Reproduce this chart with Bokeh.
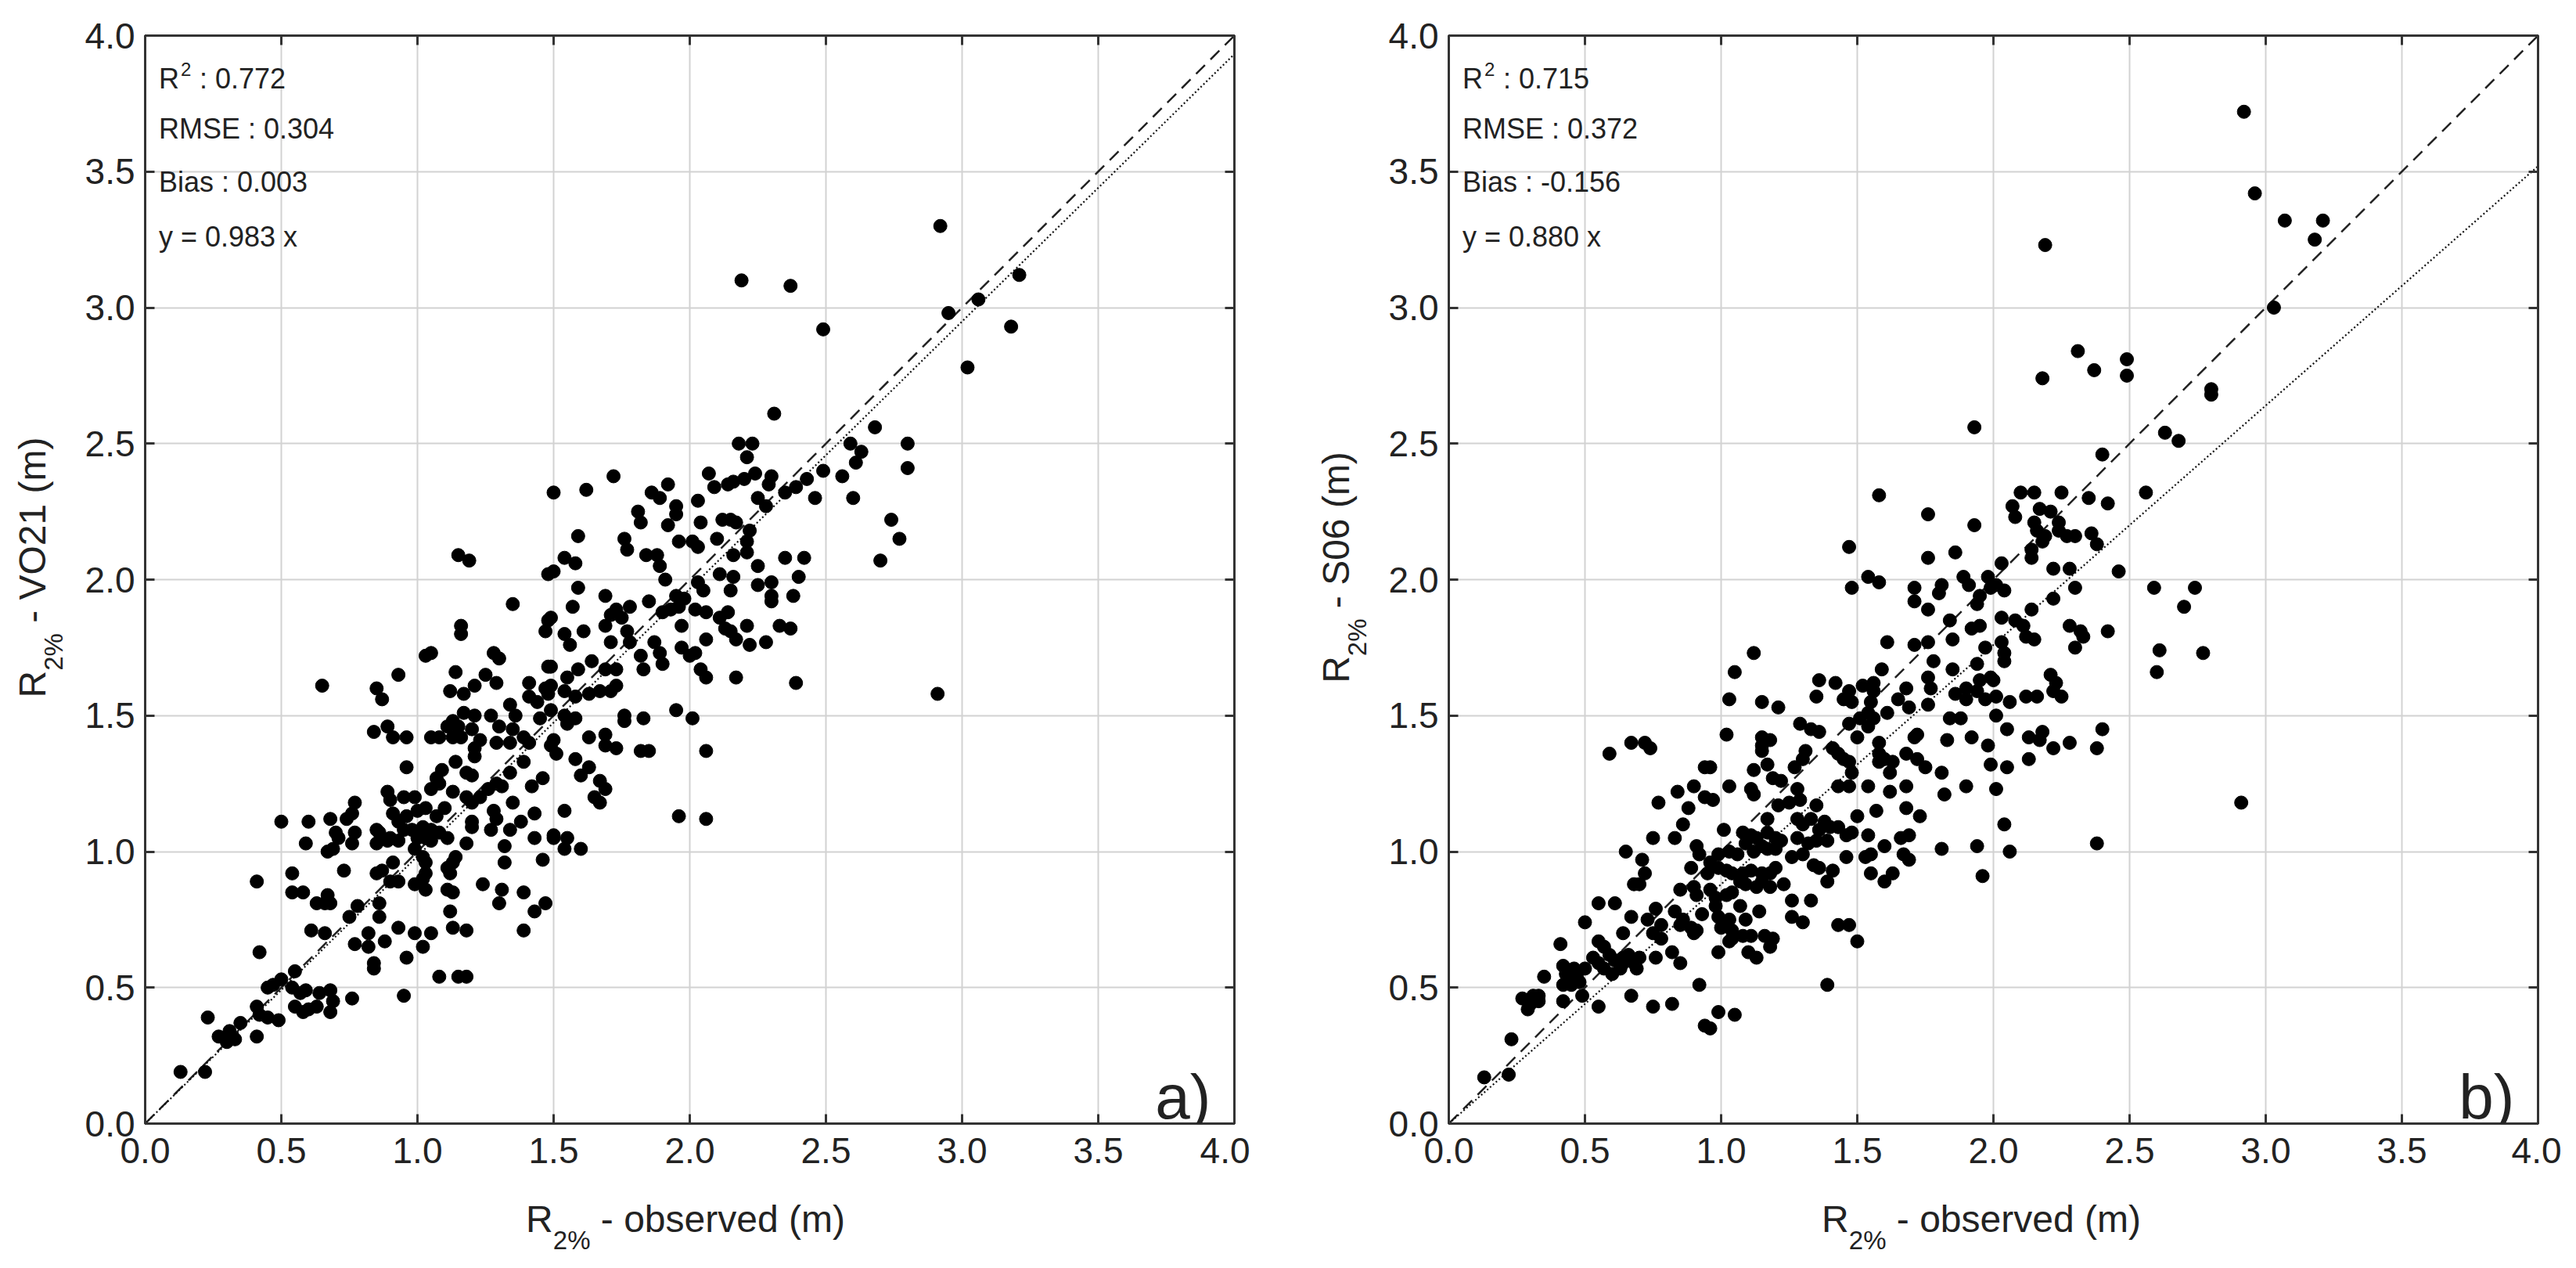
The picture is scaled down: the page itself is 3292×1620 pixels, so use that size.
import math
from bokeh.plotting import figure
from bokeh.models import Label, LinearAxis, FixedTicker, PrintfTickFormatter, Range1d, Div
from bokeh.layouts import row, column
from bokeh.embed import file_html
from bokeh.resources import INLINE

FONT = "Liberation Sans"

# ---------------- data ----------------
axis_ticks = [0.0, 0.5, 1.0, 1.5, 2.0, 2.5, 3.0, 3.5, 4.0]
one_to_one = [0.0, 4.0]

# panel a) : observed vs VO21
obs_a_low = [
    1.15,1.19,1.48,1.35,1.48,1.47,1.16,1.16,1.03,1.05,
    1.28,1.30,1.48,1.14,1.25,1.29,0.93,0.65,0.85,0.87,
    1.12,1.17,1.21,1.41,1.47,1.48,1.41,1.34,1.44,1.45,
    1.36,1.17,1.21,1.27,1.13,1.11,1.15,1.20,1.30,1.35,
    1.39,1.41,1.34,1.29,1.23,1.21,1.13,1.16,1.05,1.08,
    0.84,0.89,0.91,0.96,1.49,1.21,0.96,1.14,1.18,1.20,
    1.09,1.07,1.05,1.08,1.29,1.31,1.26,1.34,1.39,1.42,
    1.46,0.89,0.90,0.95,0.99,0.77,1.13,1.18,1.20,1.23,
    0.50,0.60,0.68,0.74,0.76,0.85,0.86,0.91,0.93,0.96,
    1.00,1.03,1.07,1.10,0.95,0.98,1.02,1.05,1.08,1.11,
    0.90,0.93,1.00,1.03,1.05,0.71,0.70,0.77,0.76,0.67,
    0.69,0.59,0.85,0.89,0.99,1.02,1.20,1.20,1.28,1.29,
    1.35,1.43,1.27,1.34,1.38,1.18,1.32,1.43,1.46,1.50,
    0.73,0.85,0.87,0.90,0.93,0.91,1.03,1.03,1.02,1.14,
    1.13,1.11,1.12,0.99,1.03,1.11,1.13,1.24,1.31,1.39,
    1.32,1.30,1.43,1.47,0.41,0.54,0.54,0.58,0.63,0.66,
    0.67,0.68,0.78,0.75,0.86,0.86,1.12,0.61,0.66,0.77,
    0.82,0.82,0.88,0.93,0.99,1.02,1.05,1.13,1.18,1.39,
    0.84,0.84,0.96,1.08,1.15,1.18,0.42,0.55,0.50,0.45,
    0.47,0.54,0.57,0.59,0.55,0.58,0.60,0.63,0.64,0.68,
    0.68,0.69,0.76,0.95,0.41,0.42,0.45,0.49,0.35,0.31,
    0.27,0.30,0.33,0.23,0.41,0.13,0.22]
vo21_low = [
    2.09,2.07,2.02,1.91,1.85,1.81,1.83,1.80,1.72,1.73,
    1.73,1.71,1.68,1.66,1.65,1.62,1.65,1.61,1.60,1.56,
    1.59,1.58,1.61,1.62,1.60,1.58,1.57,1.54,1.55,1.49,
    1.50,1.51,1.50,1.50,1.48,1.46,1.46,1.45,1.46,1.45,
    1.42,1.40,1.40,1.40,1.41,1.38,1.42,1.42,1.42,1.42,
    1.44,1.46,1.42,1.42,1.39,1.35,1.31,1.33,1.29,1.28,
    1.30,1.27,1.23,1.25,1.25,1.24,1.23,1.29,1.33,1.24,
    1.27,1.22,1.19,1.20,1.20,1.18,1.22,1.20,1.18,1.20,
    1.11,1.11,1.12,1.12,1.14,1.08,1.07,1.14,1.11,1.13,
    1.15,1.16,1.13,1.16,1.08,1.08,1.09,1.08,1.07,1.05,
    1.05,1.04,1.05,1.05,1.04,1.05,1.07,1.07,1.03,1.00,
    1.01,1.03,1.03,1.04,1.01,0.98,1.11,1.09,1.15,1.12,
    1.18,1.14,1.08,1.08,1.11,1.03,1.02,1.05,0.97,1.05,
    0.93,0.92,0.93,0.89,0.89,0.96,0.96,0.92,0.90,0.98,
    0.96,0.94,0.92,0.88,0.86,0.86,0.85,0.88,0.86,0.85,
    0.96,0.81,0.78,0.81,0.89,0.92,0.85,0.85,0.81,0.81,
    0.84,0.81,0.80,0.76,0.81,0.76,0.78,0.71,0.70,0.66,
    0.70,0.65,0.67,0.72,0.70,0.65,0.70,0.72,0.71,0.71,
    0.59,0.57,0.61,0.54,0.54,0.54,0.63,0.56,0.53,0.50,
    0.51,0.50,0.48,0.49,0.43,0.41,0.42,0.43,0.48,0.49,
    0.41,0.45,0.46,0.47,0.43,0.40,0.39,0.38,0.37,0.34,
    0.32,0.30,0.31,0.39,0.32,0.19,0.19]
obs_a_high = [
    2.19,2.37,2.49,3.21,2.95,3.06,3.18,3.02,2.92,
    2.31,2.68,2.18,2.23,2.21,2.59,2.63,2.61,2.80,2.80,2.49,2.56,2.60,2.46,
    2.74,2.77,2.70,2.91,
    2.35,2.39,2.43,2.24,2.20,2.16,2.14,2.09,2.07,2.29,
    2.30,2.25,2.28,2.03,1.92,1.86,1.89,1.72,1.62,1.50,
    1.59,1.81,1.82,1.76,1.77,1.95,1.95,1.92,2.04,2.10,
    2.12,2.15,2.17,2.22,2.21,2.21,2.16,1.96,2.01,2.03,
    1.84,1.88,1.89,1.91,1.54,1.58,1.50,2.35,2.42,2.40,
    2.38,2.25,2.25,2.30,2.30,2.30,2.11,2.16,2.15,2.03,
    2.05,1.95,1.98,1.96,1.93,1.97,1.90,2.02,2.06,2.11,
    2.14,2.13,2.15,2.17,2.21,2.22,2.28,2.33,2.37,1.59,
    1.69,1.57,1.49,1.73,1.78,1.75,1.71,1.69,1.54,1.56,
    1.61,1.71,1.77,1.78,1.85,1.87,1.89,1.90,1.82,1.83,
    1.97,2.00,2.02,2.06,2.04,2.06,2.17,2.39,1.49,1.55,
    1.59,1.64,1.69,1.73,1.49,1.54,1.58,1.63,1.67,1.71,
    1.73,1.49,1.54,1.58,1.55,1.76,1.76,1.83,1.95,2.01,
    1.63,1.69,1.69,1.73,1.50,1.51,1.82,1.85,2.06,1.58,
    1.63,1.60,1.67,1.69,1.65,1.67,1.54,1.96,2.06,1.50,
    1.55,1.54,1.60]
vo21_high = [
    3.10,3.08,2.92,3.12,2.98,3.03,2.93,2.78,3.30,
    2.61,2.56,2.50,2.50,2.45,2.50,2.47,2.43,2.50,2.41,2.40,2.38,2.30,2.30,
    2.22,2.15,2.07,1.58,
    2.32,2.34,2.37,2.39,2.37,2.36,2.35,2.34,2.39,2.35,
    2.38,2.30,2.27,2.29,2.35,2.32,2.30,2.38,2.33,2.32,
    2.16,2.25,2.21,2.15,2.11,2.27,2.24,2.20,2.21,2.15,
    2.22,2.22,2.21,2.18,2.14,2.10,2.09,2.14,2.14,2.12,
    2.09,2.09,2.05,2.00,2.08,2.06,2.03,2.08,2.08,2.01,
    1.94,2.05,1.98,1.99,1.94,1.92,2.02,2.01,1.96,1.99,
    1.96,1.94,1.93,1.90,1.89,1.83,1.88,1.89,1.88,1.86,
    1.88,1.82,1.81,1.78,1.83,1.76,1.77,1.83,1.82,1.97,
    1.94,1.90,1.86,1.89,1.90,1.86,1.87,1.83,1.80,1.76,
    1.81,1.77,1.81,1.77,1.92,1.77,1.73,1.69,1.72,1.67,
    1.75,1.72,1.73,1.78,1.67,1.64,1.64,1.62,1.68,1.64,
    1.67,1.70,1.67,1.67,1.61,1.59,1.57,1.58,1.59,1.59,
    1.61,1.52,1.50,1.49,1.47,1.50,1.48,1.49,1.52,1.49,
    1.42,1.43,1.39,1.38,1.41,1.36,1.37,1.37,1.37,1.34,
    1.31,1.28,1.26,1.23,1.20,1.18,1.15,1.13,1.12,1.06,
    1.05,1.01,1.01]

# panel b) : observed vs S06
obs_b_top = [
    1.93,2.92,2.96,3.07,3.21,3.18,3.03,2.19,2.31,2.37,
    2.18,2.49,2.49,2.80,2.80,2.63,2.68,2.40,2.56,2.25,
    2.10,2.15,2.35,2.42,2.07,2.08,2.17,2.21,2.24,2.15]
s06_top = [
    2.56,3.72,3.42,3.32,3.32,3.25,3.00,3.23,2.84,2.77,
    2.74,2.81,2.75,2.70,2.68,2.54,2.51,2.46,2.32,2.32,
    2.32,2.32,2.30,2.28,2.27,2.23,2.26,2.25,2.21,2.21]
obs_b_right = [
    2.16,2.19,2.24,2.27,2.30,2.36,2.38,2.18,2.14,2.03,
    2.01,2.04,2.14,2.22,2.28,2.46,2.59,2.74,2.70,2.30,
    2.22,2.14,2.03,2.08,2.11,2.12,2.15,2.28,2.32,2.33,
    2.30,2.42,2.61,2.77,2.60,2.03,2.04,2.04,2.21,2.23,
    2.25,2.22,2.12,2.16,2.06,2.01,2.00,2.01,2.05,2.13,
    2.18,2.17,2.28,2.22,2.13,2.40,2.38,2.05,2.01,2.04,
    2.38,2.06,2.91]
s06_right = [
    2.18,2.16,2.18,2.16,2.16,2.17,2.13,2.14,2.11,2.06,
    1.98,1.96,2.08,2.04,2.04,2.03,1.97,1.97,1.90,1.97,
    1.93,1.89,1.86,1.85,1.83,1.79,1.78,1.83,1.81,1.79,
    1.75,1.81,1.74,1.73,1.66,1.77,1.73,1.70,1.65,1.62,
    1.57,1.59,1.57,1.57,1.55,1.57,1.63,1.50,1.45,1.42,
    1.44,1.41,1.40,1.38,1.34,1.45,1.38,1.31,1.23,1.10,
    1.03,1.00,1.18]
obs_b_mid = [
    1.58,1.76,1.93,1.47,1.76,1.86,1.54,1.58,1.48,1.71,
    1.71,1.76,1.81,1.80,1.89,1.91,1.98,1.99,1.95,1.94,
    1.84,1.92,1.95,1.61,1.71,1.76,1.85,1.97,1.78,1.94,
    1.59,1.85,1.76,1.77,1.68,1.56,1.52,1.56,1.47,1.45,
    1.48,1.36,1.35,1.42,1.65,1.69,1.76,1.86,1.90,1.94,
    1.97,1.95,1.99,1.90,1.55,1.54,1.51,1.56,1.61,1.47,
    1.54,1.84,1.88,1.29,1.33,1.36,1.15,1.21,1.03,1.05,
    1.12,1.02,1.15,1.18,1.15,1.15,1.50,1.58,1.72,1.71,
    1.83,1.92,1.98,1.41,1.43,1.45,1.47,1.31,1.30,1.27,
    1.58,1.60,1.58,1.63,1.68,1.72,1.75,1.81,1.99,1.48,
    1.62,1.17,1.12,0.94,0.96,0.59,0.67,0.72,0.74]
s06_mid = [
    2.31,2.24,2.20,2.12,2.08,2.10,2.01,1.99,1.97,1.97,
    1.92,1.89,1.98,1.95,2.01,1.98,2.01,1.97,1.94,1.91,
    1.85,1.82,1.83,1.77,1.76,1.77,1.78,1.75,1.70,1.69,
    1.67,1.67,1.64,1.60,1.60,1.62,1.61,1.59,1.59,1.56,
    1.55,1.63,1.57,1.62,1.56,1.53,1.54,1.58,1.60,1.59,
    1.56,1.63,1.64,1.56,1.55,1.51,1.49,1.49,1.51,1.47,
    1.46,1.49,1.49,1.47,1.45,1.44,1.55,1.53,1.56,1.66,
    1.73,1.43,1.42,1.41,1.39,1.37,1.42,1.40,1.43,1.42,
    1.41,1.42,1.39,1.38,1.36,1.34,1.33,1.37,1.34,1.31,
    1.36,1.34,1.33,1.33,1.36,1.34,1.31,1.29,1.32,1.29,
    1.29,1.32,1.30,1.31,1.31,1.36,1.40,1.40,1.38]
obs_b_low = [
    0.84,0.90,0.94,0.97,0.77,1.03,1.11,1.12,1.19,1.22,
    1.28,1.43,1.47,1.54,1.62,1.68,1.82,1.90,0.88,1.21,
    1.25,1.29,1.35,1.50,1.57,1.68,1.73,0.86,0.83,0.75,
    1.01,1.17,1.08,1.11,1.13,1.17,1.20,1.22,1.15,1.12,
    1.17,1.20,1.09,1.06,1.03,0.99,1.28,1.30,1.33,1.38,
    1.36,1.40,1.43,1.46,1.48,1.54,1.28,1.32,1.35,1.39,
    1.60,1.55,1.53,1.66,1.69,1.67,1.69,1.81,1.94,1.96,
    1.46,0.91,0.92,0.65,0.71,0.72,0.68,0.70,0.89,0.96,
    0.95,0.99,1.02,1.04,1.08,1.11,1.15,1.18,1.20,1.07,
    1.09,1.13,1.18,1.23,1.15,1.26,1.30,1.34,1.36,1.41,
    1.39,1.55,1.60,1.63,0.85,0.90,0.91,0.96,0.98,1.02,
    1.04,1.26,1.33,0.55,0.61,0.67,0.76,0.73,0.78,0.75,
    0.78,0.83,0.86,0.85,0.89,0.91,0.90,0.93,0.98,0.99,
    1.00,1.03,1.04,1.07,1.09,1.14,1.26,1.30,1.43,1.47,
    1.50,0.50,0.64,0.41,1.04,1.03,1.08,1.11,1.16,1.19,
    0.99,1.10,1.13,1.18,0.76,0.82,0.85,0.55,0.57,0.59,
    0.61,0.64,0.66,0.68,0.69,0.70,0.53,0.55,0.57,0.60,
    0.63,0.64,0.42,0.43,0.46,0.47,0.50,0.35,0.42,0.45,
    0.48,0.92,1.39,0.67,0.27,0.31,0.33,0.30,0.33,0.29,
    0.42,0.49,0.55,0.75,0.82,0.99,1.05,0.94,0.96,0.23,
    0.13,0.22]
s06_low = [
    1.22,1.24,1.20,1.19,1.18,1.24,1.23,1.21,1.27,1.26,
    1.23,1.24,1.24,1.24,1.22,1.24,1.21,1.24,1.16,1.17,
    1.18,1.19,1.17,1.13,1.15,1.16,1.13,1.10,1.05,1.05,
    1.08,1.12,1.07,1.06,1.05,1.07,1.05,1.04,1.02,1.00,
    1.01,1.01,1.03,0.99,1.00,0.99,1.12,1.10,1.12,1.11,
    1.08,1.09,1.09,1.06,1.07,1.06,1.05,1.03,1.04,1.04,
    1.02,0.99,0.98,1.05,1.06,0.99,0.97,1.01,1.02,0.91,
    0.98,1.02,0.99,1.00,0.97,0.92,0.88,0.88,0.94,0.96,
    0.92,0.94,0.93,0.92,0.92,0.93,0.92,0.92,0.94,0.89,
    0.88,0.87,0.87,0.88,0.89,0.98,0.99,0.95,0.94,0.93,
    0.89,0.92,0.89,0.92,0.86,0.87,0.84,0.86,0.83,0.84,
    0.85,0.82,0.82,0.81,0.81,0.76,0.79,0.75,0.73,0.70,
    0.68,0.78,0.75,0.73,0.72,0.71,0.70,0.77,0.80,0.76,
    0.72,0.75,0.71,0.80,0.75,0.78,0.76,0.74,0.73,0.73,
    0.67,0.74,0.70,0.66,0.68,0.67,0.69,0.69,0.69,0.68,
    0.63,0.63,0.61,0.65,0.61,0.63,0.59,0.67,0.65,0.62,
    0.60,0.61,0.62,0.59,0.57,0.61,0.61,0.59,0.57,0.55,
    0.57,0.59,0.58,0.55,0.57,0.54,0.57,0.54,0.51,0.51,
    0.52,0.51,0.51,0.47,0.46,0.47,0.47,0.44,0.45,0.42,
    0.45,0.47,0.43,0.43,0.44,0.41,0.40,0.36,0.35,0.31,
    0.17,0.18]

slope_a = 0.983
slope_b = 0.880
stats_a = ["0.772", "0.304", "0.003", "0.983"]
stats_b = ["0.715", "0.372", "-0.156", "0.880"]
xlabel_rest = " - observed (m)"
ylabel_rest_a = " - VO21 (m)"
ylabel_rest_b = " - S06 (m)"
letters = ["a)", "b)"]

INK = "#222222"
FRAME_W, FRAME_H = 1392, 1390
TOP, BOTTOM = 45, 80
FIG_H = TOP + FRAME_H + BOTTOM


def lbl(p, **kw):
    kw.setdefault("text_font", FONT)
    kw.setdefault("text_color", INK)
    kw.setdefault("text_baseline", "alphabetic")
    kw.setdefault("text_align", "left")
    p.add_layout(Label(**kw))


def panel(xs, ys, slope, stats, letter, bl, br):
    p = figure(frame_width=FRAME_W, frame_height=FRAME_H,
               x_range=Range1d(0, 4), y_range=Range1d(0, 4),
               output_backend="svg", toolbar_location=None,
               min_border_left=bl, min_border_right=br,
               min_border_top=TOP, min_border_bottom=BOTTOM,
               background_fill_color="white", border_fill_color="white")
    p.outline_line_color = "#333333"
    p.outline_line_width = 3
    p.add_layout(LinearAxis(), "right")
    p.add_layout(LinearAxis(), "above")
    for ax in p.axis:
        ax.ticker = FixedTicker(ticks=axis_ticks)
        ax.formatter = PrintfTickFormatter(format="%.1f")
        ax.major_tick_in = 12
        ax.major_tick_out = 0
        ax.minor_tick_in = 0
        ax.minor_tick_out = 0
        ax.axis_line_color = "#333333"
        ax.axis_line_width = 3
        ax.major_tick_line_color = "#333333"
        ax.major_tick_line_width = 3
        ax.major_label_text_font = FONT
        ax.major_label_text_color = INK
        ax.major_label_text_font_size = "46px"
    p.below[0].major_label_standoff = 18
    p.left[0].major_label_standoff = 13
    for ax in (p.right[0], p.above[0]):
        ax.major_label_text_color = None
        ax.major_label_text_alpha = 0
        ax.major_label_text_font_size = "1px"
        ax.major_label_standoff = 0
    for g in (p.xgrid[0], p.ygrid[0]):
        g.ticker = FixedTicker(ticks=axis_ticks)
        g.grid_line_color = "#d2d2d2"
        g.grid_line_width = 2

    fit = [slope * v for v in one_to_one]
    p.line(one_to_one, one_to_one, line_color="#222222", line_width=2.5, line_dash="16 10")
    p.line(one_to_one, fit, line_color="#111111", line_width=2.2, line_dash="2 3")
    p.scatter(xs, ys, marker="circle", size=17, fill_color="black", line_color="black")

    # statistics block
    x0 = 0.05
    lbl(p, x=x0, y=3.842, text="R", text_font_size="36px")
    lbl(p, x=x0, y=3.842, x_offset=28, y_offset=12, text="2", text_font_size="24px")
    lbl(p, x=x0, y=3.842, x_offset=52, text=": " + stats[0], text_font_size="36px")
    lbl(p, x=x0, y=3.657, text="RMSE : " + stats[1], text_font_size="36px")
    lbl(p, x=x0, y=3.462, text="Bias : " + stats[2], text_font_size="36px")
    lbl(p, x=x0, y=3.260, text="y = " + stats[3] + " x", text_font_size="36px")

    # panel letter
    lbl(p, x=4.0, y=0.0, x_offset=-30, y_offset=34, text=letter,
        text_font_size="80px", text_align="right")
    return p


BASE = ("position:absolute;white-space:nowrap;font-family:'Liberation Sans',sans-serif;"
        "color:%s;font-size:48px;line-height:48px;height:48px;" % INK)
SUB = "font-size:33px;vertical-align:-22px;line-height:0;"


def title_html(rest):
    return "R<sub style=\"%s\">2%%</sub>%s" % (SUB, rest.replace(" ", "&nbsp;"))


def ytitle_div(width, cx, rest):
    html = ("<div style=\"position:relative;width:%dpx;height:%dpx;\">"
            "<div style=\"%sleft:%.1fpx;top:%.1fpx;transform:translate(-50%%,-50%%) rotate(-90deg);\">%s</div>"
            "</div>") % (width, FIG_H, BASE, cx, 720, title_html(rest))
    return Div(text=html, width=width, height=FIG_H)


LEFT_DIV_W, BL1 = 90, 85
BR1 = 20
MID_DIV_W, BL2 = 159, 85
BR2 = 30

p1 = panel(obs_a_low + obs_a_high, vo21_low + vo21_high, slope_a, stats_a,
           letters[0], BL1, BR1)
p2 = panel(obs_b_top + obs_b_right + obs_b_mid + obs_b_low,
           s06_top + s06_right + s06_mid + s06_low, slope_b, stats_b,
           letters[1], BL2, BR2)

yt1 = ytitle_div(LEFT_DIV_W, 37.4, ylabel_rest_a)
yt2 = ytitle_div(MID_DIV_W, 106.4, ylabel_rest_b)

total_w = LEFT_DIV_W + BL1 + FRAME_W + BR1 + MID_DIV_W + BL2 + FRAME_W + BR2
c1 = LEFT_DIV_W + BL1 + FRAME_W / 2
c2 = LEFT_DIV_W + BL1 + FRAME_W + BR1 + MID_DIV_W + BL2 + FRAME_W / 2
xt_html = ("<div style=\"position:relative;width:%dpx;height:85px;\">"
           "<div style=\"%sleft:%.1fpx;top:4px;transform:translateX(-50%%);\">%s</div>"
           "<div style=\"%sleft:%.1fpx;top:4px;transform:translateX(-50%%);\">%s</div>"
           "</div>") % (total_w, BASE, c1, title_html(xlabel_rest), BASE, c2, title_html(xlabel_rest))
xt = Div(text=xt_html, width=total_w, height=85)

layout = column(row(yt1, p1, yt2, p2), xt)
open("out.html", "w").write(file_html(layout, INLINE))
